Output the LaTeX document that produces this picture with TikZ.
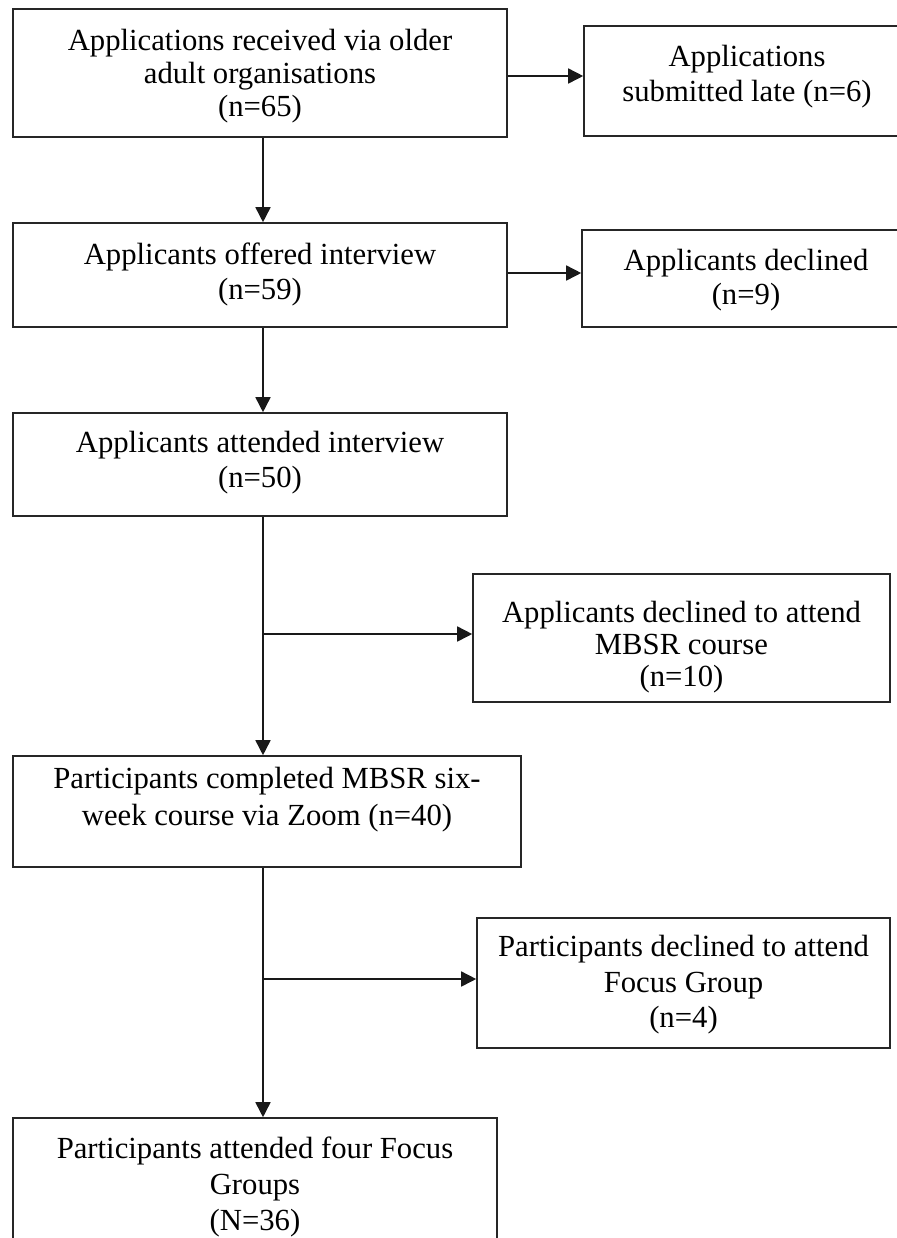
\documentclass[tikz,border=0pt]{standalone}
\usepackage{fontspec}
\setmainfont{Liberation Serif}
\usetikzlibrary{arrows.meta,calc}
\newcommand\boxtext[3]{\fontsize{15.35pt}{#2}\selectfont\raisebox{#1}[\height][\depth]{\begin{tabular}{@{}c@{}}#3\end{tabular}}}
\begin{document}
\begin{tikzpicture}[x=0.5pt,y=-0.5pt,
  flowbox/.style={draw=black!85, line width=0.8pt, inner sep=0pt},
  conn/.style={draw=black!90, line width=0.8pt},
  arr/.style={conn, -{Triangle[length=7.5pt,width=7.5pt]}}]
\useasboundingbox (0,0) rectangle (896,1238);
\node[flowbox, minimum width=247pt, minimum height=64pt] (a) at (260,73)
  {\boxtext{-2pt}{16.5pt}{Applications received via older\\adult organisations\\(n=65)}};
\node[flowbox, minimum width=163pt, minimum height=55pt] (b) at (747,81)
  {\boxtext{2pt}{17.5pt}{Applications\\submitted late (n=6)}};
\node[flowbox, minimum width=247pt, minimum height=52pt] (c) at (260,275)
  {\boxtext{0pt}{17.5pt}{Applicants offered interview\\(n=59)}};
\node[flowbox, minimum width=164pt, minimum height=48.5pt] (d) at (746,278.5)
  {\boxtext{-1pt}{17pt}{Applicants declined\\(n=9)}};
\node[flowbox, minimum width=247pt, minimum height=51.5pt] (e) at (260,464.5)
  {\boxtext{1pt}{17.5pt}{Applicants attended interview\\(n=50)}};
\node[flowbox, minimum width=208.5pt, minimum height=64pt] (f) at (681.5,638)
  {\boxtext{-5pt}{16pt}{Applicants declined to attend\\MBSR course\\(n=10)}};
\node[flowbox, minimum width=254pt, minimum height=55.5pt] (g) at (267,811.5)
  {\boxtext{6pt}{18.5pt}{Participants completed MBSR six-\\week course via Zoom (n=40)}};
\node[flowbox, minimum width=206.5pt, minimum height=65pt] (h) at (683.5,983)
  {\boxtext{-1pt}{17.75pt}{Participants declined to attend\\Focus Group\\(n=4)}};
\node[flowbox, minimum width=242pt, minimum height=66.5pt] (i) at (255,1184.5)
  {\boxtext{-1.5pt}{18pt}{Participants attended four Focus\\Groups\\(N=36)}};
\coordinate (vx) at (263,0);
\coordinate (j1) at (263,634);
\coordinate (j2) at (263,979);
\draw[arr] ([yshift=-1.5pt]a.east) -- ([yshift=-1.5pt]a.east -| b.west);
\draw[arr] ([yshift=1pt]c.east) -- ([yshift=1pt]c.east -| d.west);
\draw[arr] (vx |- a.south) -- (vx |- c.north);
\draw[arr] (vx |- c.south) -- (vx |- e.north);
\draw[arr] (vx |- e.south) -- (vx |- g.north);
\draw[arr] (j1) -- (j1 -| f.west);
\draw[arr] (vx |- g.south) -- (vx |- i.north);
\draw[arr] (j2) -- (j2 -| h.west);
\end{tikzpicture}
\end{document}
